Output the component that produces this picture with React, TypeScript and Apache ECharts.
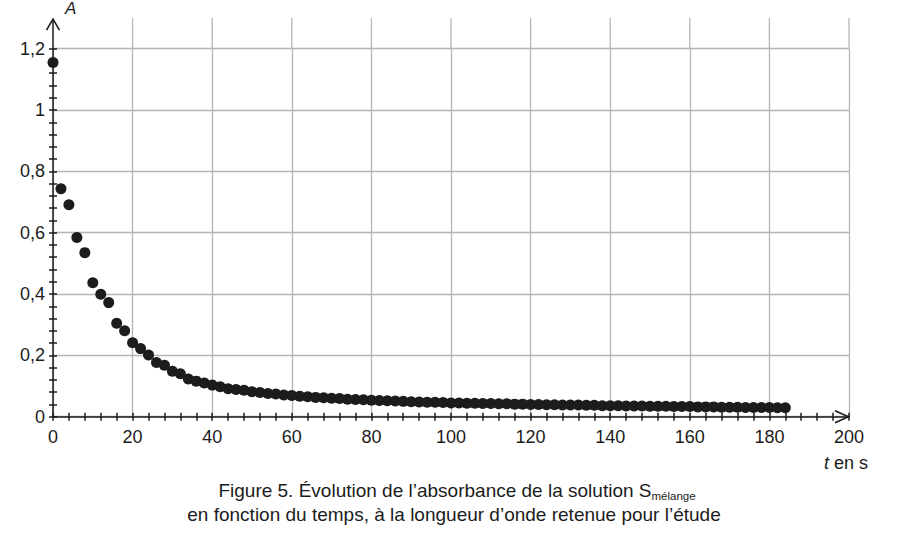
import { useEffect, useRef } from 'react'
import * as echarts from 'echarts'

// temps (s)
const times = [
  0, 2, 4, 6, 8, 10, 12, 14, 16, 18, 20, 22, 24, 26, 28, 30, 32, 34, 36, 38,
  40, 42, 44, 46, 48, 50, 52, 54, 56, 58, 60, 62, 64, 66, 68, 70, 72, 74, 76, 78,
  80, 82, 84, 86, 88, 90, 92, 94, 96, 98, 100, 102, 104, 106, 108, 110, 112, 114, 116, 118,
  120, 122, 124, 126, 128, 130, 132, 134, 136, 138, 140, 142, 144, 146, 148, 150, 152, 154, 156, 158,
  160, 162, 164, 166, 168, 170, 172, 174, 176, 178, 180, 182, 184,
]

// absorbance A
const absorbance = [
  1.155, 0.743, 0.691, 0.584, 0.535, 0.437, 0.399, 0.372, 0.305, 0.28, 0.241, 0.222, 0.201, 0.177, 0.168, 0.148, 0.14, 0.123, 0.116, 0.11,
  0.103, 0.098, 0.091, 0.089, 0.086, 0.081, 0.079, 0.076, 0.074, 0.071, 0.069, 0.067, 0.065, 0.063, 0.062, 0.06, 0.059, 0.057, 0.056, 0.055,
  0.054, 0.053, 0.052, 0.051, 0.05, 0.049, 0.048, 0.047, 0.047, 0.046, 0.045, 0.045, 0.044, 0.044, 0.043, 0.043, 0.042, 0.042, 0.041, 0.041,
  0.04, 0.04, 0.039, 0.039, 0.038, 0.038, 0.038, 0.037, 0.037, 0.036, 0.036, 0.036, 0.035, 0.035, 0.035, 0.034, 0.034, 0.034, 0.033, 0.033,
  0.033, 0.032, 0.032, 0.032, 0.031, 0.031, 0.031, 0.03, 0.03, 0.03, 0.03, 0.029, 0.029,
]

// graduations de l'axe des temps
const xTicks = [0, 20, 40, 60, 80, 100, 120, 140, 160, 180, 200]
const yMax = 1.2
const yStep = 0.2
const yArrowTop = 1.3 // l'axe et la grille montent un peu au-dessus de 1,2

const font = 'Liberation Sans'
const ink = '#1c1c1c'
const gridGray = '#b5b5b5'

const App = () => {
  const chartRef = useRef<HTMLDivElement>(null)

  useEffect(() => {
    if (!chartRef.current) return
    document.body.style.margin = '0'

    const chart = echarts.init(chartRef.current, null, { renderer: 'svg' })

    const line = { color: ink, width: 1.5 }
    const xStep = xTicks[1] - xTicks[0]
    const xMax = xTicks[xTicks.length - 1]
    const baseX = { type: 'value' as const, min: 0, max: xMax, interval: xStep, position: 'bottom' as const }
    const baseY = { type: 'value' as const, min: 0, max: yMax, interval: yStep, position: 'left' as const }

    chart.setOption({
      animation: false,
      backgroundColor: '#fff',
      grid: { left: 53, top: 48.7, width: 796, height: 368 },
      xAxis: [
        {
          ...baseX,
          axisLine: { lineStyle: line },
          axisTick: { length: 4, lineStyle: line },
          minorTick: { show: true, splitNumber: 5, length: 4, lineStyle: line },
          splitLine: { show: true, lineStyle: { color: gridGray, width: 1.3 } },
          axisLabel: { fontSize: 18, color: ink, fontFamily: font, margin: 11 },
        },
        {
          // graduations de l'autre côté de l'axe
          ...baseX,
          axisLine: { show: false },
          axisTick: { inside: true, length: 4, lineStyle: line },
          minorTick: { show: true, splitNumber: 5, length: 4, lineStyle: line },
          splitLine: { show: false },
          axisLabel: { show: false },
        },
      ],
      yAxis: [
        {
          ...baseY,
          axisLine: { show: true, lineStyle: line },
          axisTick: { show: true, length: 4, lineStyle: line },
          minorTick: { show: true, splitNumber: 5, length: 4, lineStyle: line },
          splitLine: { show: true, lineStyle: { color: gridGray, width: 1.3 } },
          axisLabel: {
            fontSize: 18,
            color: ink,
            fontFamily: font,
            margin: 8,
            formatter: (v: number) => String(Math.round(v * 10) / 10).replace('.', ','),
          },
        },
        {
          ...baseY,
          axisLine: { show: false },
          axisTick: { show: true, inside: true, length: 4, lineStyle: line },
          minorTick: { show: true, splitNumber: 5, length: 4, lineStyle: line },
          splitLine: { show: false },
          axisLabel: { show: false },
        },
      ],
      series: [
        {
          type: 'scatter',
          xAxisIndex: 0,
          yAxisIndex: 0,
          symbolSize: 11,
          itemStyle: { color: ink, opacity: 1 },
          data: times.map((t, i) => [t, absorbance[i]]),
          z: 5,
        },
      ],
    })

    // prolongement de la grille, flèches et légendes des axes
    const toPx = (v: number[]) => chart.convertToPixel({ gridIndex: 0 }, v) as number[]
    const [ox, oy] = toPx([0, 0])
    const [, y12] = toPx([0, yMax])
    const topY = oy - (oy - y12) * (yArrowTop / yMax)
    const [endX] = toPx([xMax, 0])

    const gridExt = xTicks
      .filter((t) => t > 0)
      .map((t) => {
        const [px] = toPx([t, 0])
        return {
          type: 'line',
          shape: { x1: px, y1: topY, x2: px, y2: y12 },
          style: { stroke: gridGray, lineWidth: 1.3 },
          z: 1,
        }
      })

    chart.setOption({
      graphic: [
        ...gridExt,
        {
          type: 'line',
          shape: { x1: ox, y1: topY + 1, x2: ox, y2: y12 },
          style: { stroke: ink, lineWidth: 1.5 },
          z: 10,
        },
        {
          type: 'polyline',
          shape: { points: [[ox - 6.5, topY + 12], [ox, topY + 1], [ox + 6.5, topY + 12]] },
          style: { stroke: ink, lineWidth: 1.6, fill: 'none' },
          z: 10,
        },
        {
          type: 'polyline',
          shape: { points: [[endX - 14, oy - 6], [endX - 0.5, oy], [endX - 14, oy + 6]] },
          style: { stroke: ink, lineWidth: 1.6, fill: 'none' },
          z: 10,
        },
        {
          type: 'text',
          x: ox + 12,
          y: 0,
          style: { text: 'A', fontSize: 17, fontStyle: 'italic', fontFamily: font, fill: ink },
        },
        {
          type: 'text',
          x: endX + 19,
          y: oy + 37,
          style: {
            text: '{i|t} en s',
            align: 'right',
            fontSize: 18,
            fontFamily: font,
            fill: ink,
            rich: { i: { fontStyle: 'italic', fontSize: 18, fontFamily: font, fill: ink } },
          },
        },
        {
          type: 'text',
          x: 457,
          y: 478,
          style: {
            text: '{a|Figure 5. Évolution de l’absorbance de la solution S}{s|mélange}',
            align: 'center',
            fill: ink,
            rich: {
              a: { fontSize: 19, fontFamily: font, lineHeight: 24, fill: ink },
              s: { fontSize: 11.5, fontFamily: font, lineHeight: 13, verticalAlign: 'bottom', fill: ink },
            },
          },
        },
        {
          type: 'text',
          x: 454,
          y: 502,
          style: {
            text: 'en fonction du temps, à la longueur d’onde retenue pour l’étude',
            align: 'center',
            fontSize: 19,
            fontFamily: font,
            lineHeight: 24,
            fill: ink,
          },
        },
      ],
    })

    return () => {
      chart.dispose()
    }
  }, [])

  return <div ref={chartRef} style={{ width: 910, height: 540, background: '#fff' }} />
}

export default App
